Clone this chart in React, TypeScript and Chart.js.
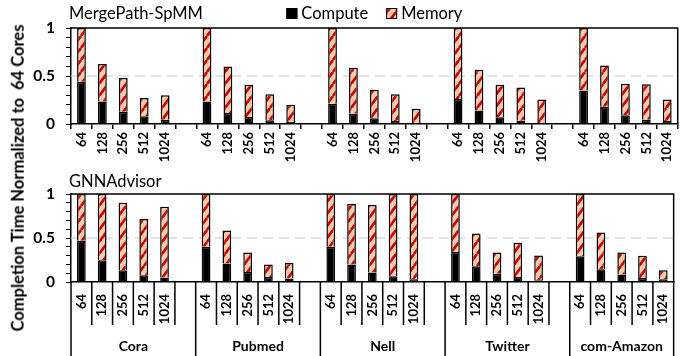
import React, { useEffect, useRef } from 'react';
import { Chart, registerables } from 'chart.js';

Chart.register(...registerables);

const FONT = 'Lato, "Open Sans", sans-serif';

const groups = ['Cora', 'Pubmed', 'Nell', 'Twitter', 'com-Amazon'];
const coreCounts = ['64', '128', '256', '512', '1024'];
const yTickLabels = ['0', '0.5', '1'];
const seriesNames = ['Compute', 'Memory'];
const panelTitles = ['MergePath-SpMM', 'GNNAdvisor'];
const yAxisTitle = 'Completion Time Normalized to  64 Cores';

// values in order: for each group, the 5 core counts
const mergePathCompute = [
  0.44, 0.235, 0.128, 0.08, 0.045,
  0.235, 0.115, 0.073, 0.04, 0.02,
  0.21, 0.107, 0.06, 0.03, 0.01,
  0.26, 0.14, 0.07, 0.035, 0.01,
  0.35, 0.18, 0.09, 0.045, 0.03,
];
const mergePathMemory = [
  0.56, 0.39, 0.352, 0.19, 0.255,
  0.765, 0.485, 0.337, 0.27, 0.18,
  0.79, 0.478, 0.297, 0.28, 0.15,
  0.74, 0.425, 0.34, 0.345, 0.246,
  0.65, 0.43, 0.33, 0.37, 0.226,
];
const gnnAdvisorCompute = [
  0.47, 0.247, 0.133, 0.076, 0.05,
  0.4, 0.21, 0.114, 0.057, 0.04,
  0.4, 0.2, 0.107, 0.065, 0.03,
  0.34, 0.18, 0.095, 0.057, 0.02,
  0.293, 0.145, 0.084, 0.046, 0.03,
];
const gnnAdvisorMemory = [
  0.53, 0.753, 0.767, 0.639, 0.805,
  0.6, 0.375, 0.221, 0.143, 0.177,
  0.6, 0.686, 0.768, 0.935, 0.97,
  0.66, 0.37, 0.24, 0.388, 0.28,
  0.707, 0.418, 0.251, 0.251, 0.103,
];

function buildSlotLabels(): string[] {
  const out: string[] = [];
  groups.forEach((_, g) => {
    if (g > 0) out.push('');
    coreCounts.forEach((c) => out.push(c));
  });
  return out;
}
const slotLabels = buildSlotLabels();

function toSlots(values: number[]): (number | null)[] {
  const out: (number | null)[] = [];
  groups.forEach((_, g) => {
    if (g > 0) out.push(null);
    for (let i = 0; i < coreCounts.length; i++) out.push(values[g * coreCounts.length + i]);
  });
  return out;
}

function makePattern(): CanvasPattern {
  const w = 9;
  const h = 12;
  const c = document.createElement('canvas');
  c.width = w;
  c.height = h;
  const g = c.getContext('2d')!;
  g.fillStyle = '#F8CBAD';
  g.fillRect(0, 0, w, h);
  g.strokeStyle = '#C80000';
  g.lineWidth = 2.6;
  g.beginPath();
  for (const dx of [-w, 0, w]) {
    g.moveTo(dx, h);
    g.lineTo(dx + w, 0);
  }
  g.stroke();
  return g.createPattern(c, 'repeat')!;
}

function buildChart(canvas: HTMLCanvasElement, title: string, compute: number[], memory: number[], isTop: boolean) {
  const pattern = makePattern();

  const decorPlugin = {
    id: 'decor' + (isTop ? 'Top' : 'Bottom'),
    beforeDatasetsDraw(chart: any) {
      const { ctx, chartArea: a, scales } = chart;
      const y = scales.y.getPixelForValue(0.5);
      ctx.save();
      ctx.strokeStyle = '#d9d9d9';
      ctx.lineWidth = 1.5;
      ctx.setLineDash([10, 6]);
      ctx.beginPath();
      ctx.moveTo(a.left, y);
      ctx.lineTo(a.right, y);
      ctx.stroke();
      ctx.restore();
    },
    afterDatasetsDraw(chart: any) {
      const { ctx, chartArea: a } = chart;
      ctx.save();
      ctx.strokeStyle = '#000';
      ctx.lineWidth = 1.5;
      ctx.beginPath();
      ctx.moveTo(a.left, a.top);
      ctx.lineTo(a.right, a.top);
      ctx.lineTo(a.right, a.bottom);
      ctx.stroke();
      ctx.restore();
    },
    afterDraw(chart: any) {
      const { ctx, chartArea: a } = chart;
      ctx.save();
      ctx.fillStyle = '#000';
      ctx.textBaseline = 'alphabetic';
      ctx.textAlign = 'left';
      ctx.font = `16.5px ${FONT}`;
      ctx.fillText(title, 69, isTop ? 18.5 : 16.7);

      if (isTop) {
        const ds = chart.data.datasets;
        const box = 11, gap = 4, spacing = 18;
        const widths = ds.map((d: any) => box + gap + ctx.measureText(d.label).width);
        const total = widths.reduce((s: number, v: number) => s + v, 0) + spacing * (ds.length - 1);
        let x = (a.left + a.right) / 2 - total / 2;
        ds.forEach((d: any, i: number) => {
          ctx.fillStyle = d.backgroundColor;
          ctx.fillRect(x, 8, box, box);
          ctx.strokeStyle = '#000';
          ctx.lineWidth = 1;
          ctx.strokeRect(x + 0.5, 8.5, box - 1, box - 1);
          ctx.fillStyle = '#000';
          ctx.fillText(d.label, x + box + gap, 19.3);
          x += widths[i] + spacing;
        });
      } else {
        const xs = chart.scales.x;
        const H = chart.height;
        const n = slotLabels.length;
        const isGroupEdge = (k: number) => k === 0 || k === n || slotLabels[k - 1] === '';
        ctx.strokeStyle = '#000';
        ctx.lineWidth = 1.5;
        ctx.beginPath();
        for (let k = 0; k <= n; k++) {
          const px = xs.getPixelForValue(k - 0.5);
          ctx.moveTo(px, a.bottom);
          ctx.lineTo(px, isGroupEdge(k) ? H : a.bottom + 43);
        }
        ctx.stroke();
        const edges: number[] = [];
        for (let k = 0; k <= n; k++) if (isGroupEdge(k)) edges.push(k);
        ctx.font = `bold 14px ${FONT}`;
        ctx.textAlign = 'center';
        ctx.fillStyle = '#000';
        groups.forEach((gname, g) => {
          const x0 = xs.getPixelForValue(edges[g] - 0.5);
          const x1 = xs.getPixelForValue(edges[g + 1] - 0.5);
          ctx.fillText(gname, (x0 + x1) / 2, H - 5.3);
        });
      }
      ctx.restore();
    },
  };

  return new Chart(canvas, {
    type: 'bar',
    data: {
      labels: slotLabels,
      datasets: [
        {
          label: seriesNames[0],
          data: toSlots(compute),
          backgroundColor: '#000',
          borderColor: '#000',
          borderWidth: 1.5,
          barPercentage: 0.42,
          categoryPercentage: 1,
        },
        {
          label: seriesNames[1],
          data: toSlots(memory),
          backgroundColor: pattern as any,
          borderColor: '#000',
          borderWidth: 1.5,
          barPercentage: 0.42,
          categoryPercentage: 1,
        },
      ],
    },
    options: {
      responsive: false,
      animation: false,
      devicePixelRatio: 1,
      layout: { padding: { top: isTop ? 28 : 24, right: 8, left: 0, bottom: 0 } },
      plugins: {
        legend: { display: false },
        tooltip: { enabled: false },
        title: { display: false },
      },
      scales: {
        x: {
          stacked: true,
          offset: true,
          grid: {
            display: isTop,
            drawOnChartArea: false,
            offset: true,
            tickLength: 5,
            color: '#000',
            lineWidth: 1.5,
          },
          border: { display: true, color: '#000', width: 1.5 },
          ticks: {
            autoSkip: false,
            minRotation: 90,
            maxRotation: 90,
            padding: isTop ? 3 : 7,
            color: '#000',
            font: { family: FONT, size: 13, weight: 'bold' },
          },
          afterFit: (s: any) => {
            s.height = isTop ? 46 : 74;
          },
        } as any,
        y: {
          stacked: true,
          min: 0,
          max: 1,
          ticks: {
            stepSize: 0.1,
            autoSkip: false,
            padding: 11,
            color: '#000',
            font: { family: FONT, size: 15.5, weight: 'bold' },
            callback: (v: any) => {
              const n = Number(v);
              const hit = yTickLabels.find((t) => Math.abs(Number(t) - n) < 1e-6);
              return hit ?? '';
            },
          },
          grid: { drawOnChartArea: false, tickLength: 5, color: '#000', lineWidth: 1 },
          border: { display: true, color: '#000', width: 1.5 },
          afterFit: (s: any) => {
            s.width = 71;
          },
        } as any,
      },
    },
    plugins: [decorPlugin],
  });
}

export default function App() {
  const topRef = useRef<HTMLCanvasElement>(null);
  const botRef = useRef<HTMLCanvasElement>(null);

  useEffect(() => {
    const c1 = buildChart(topRef.current!, panelTitles[0], mergePathCompute, mergePathMemory, true);
    const c2 = buildChart(botRef.current!, panelTitles[1], gnnAdvisorCompute, gnnAdvisorMemory, false);
    return () => {
      c1.destroy();
      c2.destroy();
    };
  }, []);

  return (
    <div style={{ position: 'fixed', left: 0, top: 0, width: 686, height: 356, background: '#fff', overflow: 'hidden' }}>
      <canvas ref={topRef} width={686} height={170} style={{ position: 'absolute', left: 0, top: 0, display: 'block' }} />
      <canvas ref={botRef} width={686} height={186} style={{ position: 'absolute', left: 0, top: 170, display: 'block' }} />
      <div
        style={{
          position: 'absolute',
          left: 18,
          top: 177.5,
          transform: 'translate(-50%, -50%) rotate(-90deg)',
          whiteSpace: 'pre',
          font: `bold 16.5px ${FONT}`,
          color: '#000',
          lineHeight: 1,
        }}
      >
        {yAxisTitle}
      </div>
    </div>
  );
}
